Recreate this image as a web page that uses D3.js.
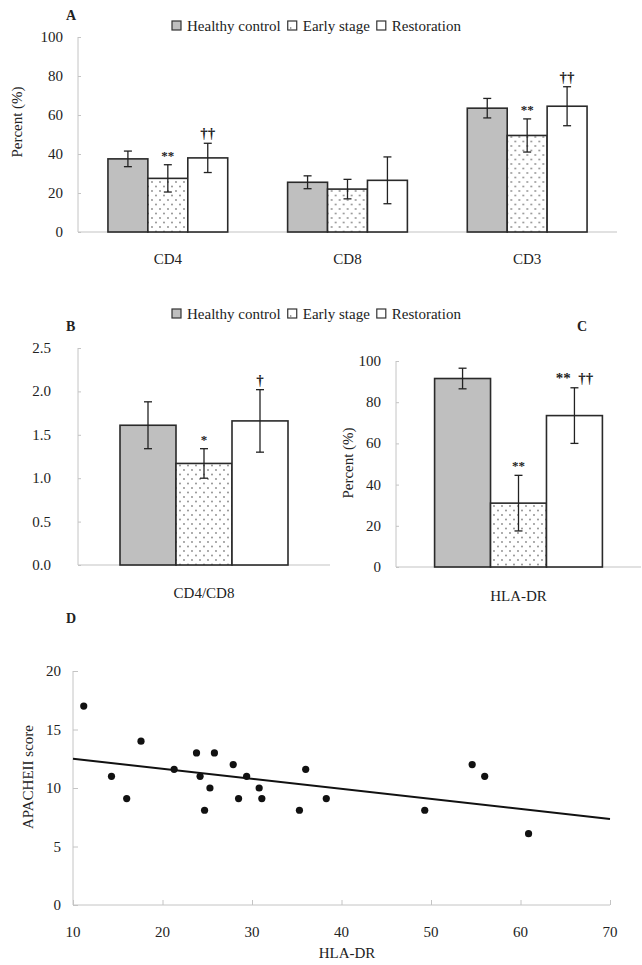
<!DOCTYPE html>
<html>
<head>
<meta charset="utf-8">
<script src="https://cdn.jsdelivr.net/npm/d3@7"></script>
<style>
  body { margin: 0; background: #fff; }
  svg { font-family: "Liberation Serif", "DejaVu Serif", serif; }
</style>
</head>
<body>
<svg id="chart" width="642" height="965"></svg>
<script>
// ---- data ----
var series = ["Healthy control", "Early stage", "Restoration"];

var panelA_cats = ["CD4", "CD8", "CD3"];
var panelA_mean = [[37.5, 27.5, 38], [25.5, 22, 26.5], [63.5, 49.5, 64.5]];
var panelA_sd = [[4, 7, 7.5], [3.3, 5, 12], [5, 8.5, 10]];
var panelA_marks = [["", "**", "††"], ["", "", ""], ["", "**", "††"]];
var panelA_ticks = [0, 20, 40, 60, 80, 100];

var panelB_cats = ["CD4/CD8"];
var panelB_mean = [[1.61, 1.17, 1.66]];
var panelB_sd = [[0.27, 0.17, 0.36]];
var panelB_marks = [["", "*", "†"]];
var panelB_ticks = [0, 0.5, 1.0, 1.5, 2.0, 2.5];

var panelC_cats = ["HLA-DR"];
var panelC_mean = [[91.5, 31, 73.5]];
var panelC_sd = [[5, 13.5, 13.5]];
var panelC_marks = [["", "**", "**  ††"]];
var panelC_ticks = [0, 20, 40, 60, 80, 100];

var scatterX = [11.2, 14.3, 16, 17.6, 21.3, 23.8, 24.2, 24.7, 25.3, 25.8, 27.9, 28.5, 29.4, 30.8, 31.1, 35.3, 36, 38.3, 49.3, 54.6, 56, 60.9];
var scatterY = [17, 11, 9.1, 14, 11.6, 13, 11, 8.1, 10, 13, 12, 9.1, 11, 10, 9.1, 8.1, 11.6, 9.1, 8.1, 12, 11, 6.1];
var regLine = [[10, 12.5], [70, 7.35]];
var panelD_xticks = [10, 20, 30, 40, 50, 60, 70];
var panelD_yticks = [0, 5, 10, 15, 20];

var svg = d3.select("#chart");
var axisCol = "#c4c4c4", textCol = "#222", fs = 15;
var fills = ["#bfbfbf", "url(#dots)", "#fff"];

// dotted pattern for early stage
var defs = svg.append("defs");
var pat = defs.append("pattern").attr("id", "dots").attr("patternUnits", "userSpaceOnUse")
  .attr("width", 8).attr("height", 9);
pat.append("rect").attr("width", 8).attr("height", 9).attr("fill", "#fff");
pat.append("circle").attr("cx", 2).attr("cy", 2).attr("r", 0.9).attr("fill", "#888");
pat.append("circle").attr("cx", 6).attr("cy", 6.5).attr("r", 0.9).attr("fill", "#888");

function legend(y) {
  var x = 172;
  series.forEach(function(s, i) {
    svg.append("rect").attr("x", x).attr("y", y - 5).attr("width", 9).attr("height", 9)
      .attr("fill", i == 0 ? "#bfbfbf" : "#fff").attr("stroke", "#333").attr("stroke-width", 1.2);
    if (i == 1) svg.append("circle").attr("cx", x + 3).attr("cy", y + 2).attr("r", 0.8).attr("fill", "#666");
    var t = svg.append("text").attr("x", x + 15).attr("y", y + 4.5).attr("font-size", fs)
      .attr("fill", textCol).text(s);
    x += 15 + t.node().getComputedTextLength() + 7;
  });
}

function barPanel(o) {
  var x0 = d3.scaleBand().domain(o.cats).range([o.left, o.right]);
  var x1 = d3.scaleBand().domain(series).range([0, x0.bandwidth()]).paddingOuter(o.pad);
  var y = d3.scaleLinear().domain([0, o.ticks[o.ticks.length - 1]]).range([o.bottom, o.top]);

  var yAxis = svg.append("g").attr("transform", "translate(" + o.left + ",0)")
    .call(d3.axisRight(y).tickValues(o.ticks).tickSize(3).tickFormat(""));
  yAxis.selectAll("line,path").attr("stroke", axisCol);
  yAxis.select("path").attr("d", "M0," + o.top + "V" + o.bottom);

  svg.append("line").attr("x1", o.left).attr("x2", o.right).attr("y1", o.bottom).attr("y2", o.bottom)
    .attr("stroke", axisCol).attr("stroke-width", 1.2);

  svg.append("g").selectAll("text").data(o.ticks).join("text")
    .attr("x", o.labelX).attr("y", function(d) { return y(d) + 5; })
    .attr("text-anchor", "end").attr("font-size", fs).attr("fill", textCol)
    .text(function(d) { return o.fmt(d); });

  o.cats.forEach(function(c, ci) {
    var g = svg.append("g").attr("transform", "translate(" + x0(c) + ",0)");
    series.forEach(function(s, si) {
      var v = o.mean[ci][si], e = o.sd[ci][si], bx = x1(s), bw = x1.bandwidth(), cx = bx + bw / 2;
      g.append("rect").attr("x", bx).attr("y", y(v)).attr("width", bw).attr("height", o.bottom - y(v))
        .attr("fill", fills[si]).attr("stroke", "#2a2a2a").attr("stroke-width", 1.6);
      g.append("line").attr("x1", cx).attr("x2", cx).attr("y1", y(v + e)).attr("y2", y(v - e))
        .attr("stroke", "#222").attr("stroke-width", 1.3);
      [v + e, v - e].forEach(function(t) {
        g.append("line").attr("x1", cx - 4).attr("x2", cx + 4).attr("y1", y(t)).attr("y2", y(t))
          .attr("stroke", "#222").attr("stroke-width", 1.3);
      });
      var m = o.marks[ci][si];
      if (m) {
        g.append("text").attr("x", cx).attr("y", y(v + e) - 5).attr("text-anchor", "middle")
          .attr("font-size", m.indexOf("†") >= 0 ? 15 : 13).attr("font-weight", "bold")
          .attr("fill", textCol).attr("xml:space", "preserve").text(m);
      }
    });
    svg.append("text").attr("x", x0(c) + x0.bandwidth() / 2).attr("y", o.catY)
      .attr("text-anchor", "middle").attr("font-size", fs).attr("fill", textCol).text(c);
  });

  if (o.ytitle) {
    svg.append("text").attr("transform", "translate(" + o.titleX + "," + o.titleY + ") rotate(-90)")
      .attr("text-anchor", "middle").attr("font-size", fs).attr("fill", textCol).text(o.ytitle);
  }
  svg.append("text").attr("x", o.tagX).attr("y", o.tagY).attr("font-size", 14)
    .attr("font-weight", "bold").attr("fill", textCol).text(o.tag);
}

// Panel A
legend(26);
barPanel({ cats: panelA_cats, mean: panelA_mean, sd: panelA_sd, marks: panelA_marks, ticks: panelA_ticks,
  left: 78, right: 617, top: 37, bottom: 232, pad: 0.75, labelX: 63, fmt: d3.format("d"),
  catY: 264, ytitle: "Percent (%)", titleX: 22, titleY: 122, tag: "A", tagX: 66, tagY: 20 });

// Panels B and C
legend(314);
barPanel({ cats: panelB_cats, mean: panelB_mean, sd: panelB_sd, marks: panelB_marks, ticks: panelB_ticks,
  left: 78, right: 330, top: 348, bottom: 565, pad: 0.75, labelX: 51, fmt: d3.format(".1f"),
  catY: 598, ytitle: null, tag: "B", tagX: 66, tagY: 331 });
barPanel({ cats: panelC_cats, mean: panelC_mean, sd: panelC_sd, marks: panelC_marks, ticks: panelC_ticks,
  left: 396, right: 641, top: 361, bottom: 567, pad: 0.69, labelX: 381, fmt: d3.format("d"),
  catY: 601, ytitle: "Percent (%)", titleX: 353, titleY: 463, tag: "C", tagX: 577, tagY: 331 });

// Panel D scatter
var xs = d3.scaleLinear().domain([10, 70]).range([73, 610]);
var ys = d3.scaleLinear().domain([0, 20]).range([905, 671]);

var gx = svg.append("g").attr("transform", "translate(0,905)")
  .call(d3.axisTop(xs).tickValues(panelD_xticks).tickSize(5).tickFormat(""));
gx.selectAll("line,path").attr("stroke", axisCol);
gx.select("path").attr("d", "M73,0H610");
var gy = svg.append("g").attr("transform", "translate(73,0)")
  .call(d3.axisRight(ys).tickValues(panelD_yticks).tickSize(5).tickFormat(""));
gy.selectAll("line,path").attr("stroke", axisCol);
gy.select("path").attr("d", "M0,671V905");

svg.append("g").selectAll("text").data(panelD_xticks).join("text")
  .attr("x", function(d) { return xs(d); }).attr("y", 937).attr("text-anchor", "middle")
  .attr("font-size", fs).attr("fill", textCol).text(function(d) { return d; });
svg.append("g").selectAll("text").data(panelD_yticks).join("text")
  .attr("x", 61).attr("y", function(d) { return ys(d) + 5; }).attr("text-anchor", "end")
  .attr("font-size", fs).attr("fill", textCol).text(function(d) { return d; });

svg.append("line").attr("x1", xs(regLine[0][0])).attr("y1", ys(regLine[0][1]))
  .attr("x2", xs(regLine[1][0])).attr("y2", ys(regLine[1][1]))
  .attr("stroke", "#111").attr("stroke-width", 2);

svg.append("g").selectAll("circle").data(scatterX).join("circle")
  .attr("cx", function(d) { return xs(d); })
  .attr("cy", function(d, i) { return ys(scatterY[i]); })
  .attr("r", 3.6).attr("fill", "#111");

svg.append("text").attr("x", 347).attr("y", 958).attr("text-anchor", "middle")
  .attr("font-size", fs).attr("fill", textCol).text("HLA-DR");
svg.append("text").attr("transform", "translate(33,777) rotate(-90)")
  .attr("text-anchor", "middle").attr("font-size", fs).attr("fill", textCol).text("APACHEII score");
svg.append("text").attr("x", 66).attr("y", 623).attr("font-size", 14)
  .attr("font-weight", "bold").attr("fill", textCol).text("D");
</script>
</body>
</html>
